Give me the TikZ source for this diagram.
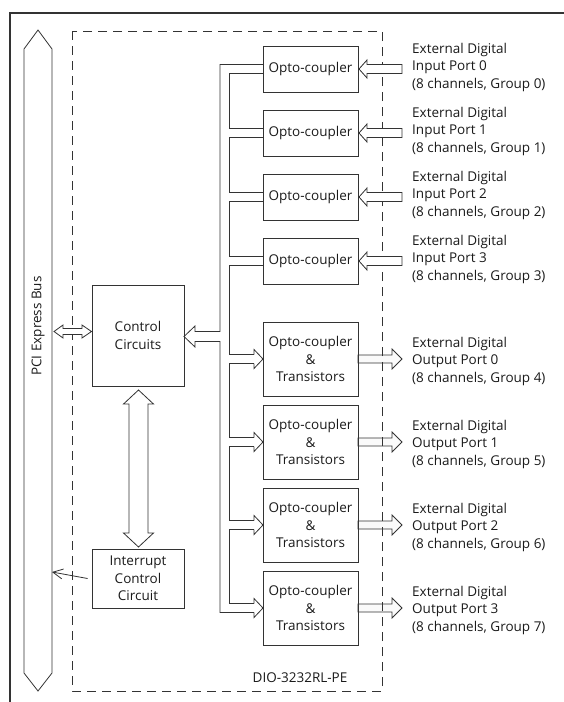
\documentclass[tikz,border=0pt]{standalone}
\usepackage{fontspec}
\setmainfont{Open Sans}
\usetikzlibrary{arrows.meta}
\definecolor{ln}{HTML}{333333}
\definecolor{tx}{HTML}{1A1A1A}
\tikzset{
  lbl/.style={font=\fontsize{13.5}{17.5}\selectfont, text=tx, align=center, inner sep=0pt},
  rlbl/.style={font=\fontsize{13.5}{17.5}\selectfont, text=tx, align=left, anchor=west, inner sep=0pt},
  box/.style={draw=ln, line width=0.8pt, inner sep=0pt, font=\fontsize{13.5}{17.5}\selectfont, text=tx, align=center},
  optobox/.style={box, minimum width=95pt, minimum height=46pt},
  outbox/.style={box, minimum width=95pt, minimum height=74pt},
  wire/.style={draw=ln, line width=0.8pt},
  hollow/.style={draw=ln, line width=0.8pt, fill=white, line join=miter},
}
\begin{document}
\begin{tikzpicture}[x=1pt,y=-1pt]
\useasboundingbox (0,0) rectangle (564,702);
% outer frame
\draw[ln, line width=1.4pt] (10,702) -- (10,13) -- (564,13);
% PCI bus
\draw[wire] (24,49) -- (38,30) -- (52,49) -- (52,673) -- (38,691) -- (24,673) -- cycle;
\node[lbl, rotate=90] (bus) at (38,326) {PCI Express Bus};
\coordinate (busR) at (52,572);
% output arrows (under dashed box)
\foreach \c in {359,442,525,608}{
  \draw[hollow, fill=gray!4] (358,\c-4) -- (392,\c-4) -- (392,\c-10) -- (402,\c) -- (392,\c+10) -- (392,\c+4) -- (358,\c+4) -- cycle;
}
% dashed board
\draw[ln, line width=0.8pt, dash pattern=on 9pt off 6pt] (72,31) rectangle (382,691);
\node[lbl] (board) at (300,678) {DIO-3232RL-PE};
% control
\node[box, minimum width=92pt, minimum height=101pt] (ctrl) at (138,335.5) {Control\\Circuits};
\node[box, minimum width=92pt, minimum height=59pt] (intr) at (138,578.5) {Interrupt\\Control\\Circuit};
% opto-couplers
\node[optobox] (in1) at (310.5,69) {Opto-coupler};
\node[optobox] (in2) at (310.5,133) {Opto-coupler};
\node[optobox] (in3) at (310.5,197) {Opto-coupler};
\node[optobox] (in4) at (310.5,261) {Opto-coupler};
\node[outbox] (out1) at (310.5,359) {Opto-coupler\\\&\\Transistors};
\node[outbox] (out2) at (310.5,442) {Opto-coupler\\\&\\Transistors};
\node[outbox] (out3) at (310.5,525) {Opto-coupler\\\&\\Transistors};
\node[outbox] (out4) at (310.5,608) {Opto-coupler\\\&\\Transistors};
% input arrows
\foreach \c in {69,133,197,261}{
  \draw[hollow] (402,\c-4.5) -- (367,\c-4.5) -- (367,\c-9) -- (359,\c) -- (367,\c+9) -- (367,\c+4.5) -- (402,\c+4.5) -- cycle;
}
% labels
\node[rlbl] (l1) at (412,67) {External Digital\\Input Port 0\\(8 channels, Group 0)};
\node[rlbl] (l2) at (412,131) {External Digital\\Input Port 1\\(8 channels, Group 1)};
\node[rlbl] (l3) at (412,195) {External Digital\\Input Port 2\\(8 channels, Group 2)};
\node[rlbl] (l4) at (412,259) {External Digital\\Input Port 3\\(8 channels, Group 3)};
\node[rlbl] (l5) at (412,361) {External Digital\\Output Port 0\\(8 channels, Group 4)};
\node[rlbl] (l6) at (412,444) {External Digital\\Output Port 1\\(8 channels, Group 5)};
\node[rlbl] (l7) at (412,527) {External Digital\\Output Port 2\\(8 channels, Group 6)};
\node[rlbl] (l8) at (412,610) {External Digital\\Output Port 3\\(8 channels, Group 7)};
% internal channel: outer wall
\draw[wire, line join=miter] (263,64.5) -- (220,64.5) -- (220,331.5) -- (195,331.5) -- (195,326) -- (184,336.5) -- (195,347) -- (195,341.5) -- (220,341.5) -- (220,612.5) -- (254,612.5);
% inner wall (inputs)
\draw[wire] (263,73.5) -- (229,73.5) -- (229,128.5) -- (263,128.5);
\draw[wire] (263,137.5) -- (229,137.5) -- (229,192.5) -- (263,192.5);
\draw[wire] (263,201.5) -- (229,201.5) -- (229,256.5) -- (263,256.5);
\draw[wire] (263,265.5) -- (229,265.5) -- (229,354.5) -- (254,354.5);
% inner wall (outputs)
\draw[wire] (254,363.5) -- (229,363.5) -- (229,437.5) -- (254,437.5);
\draw[wire] (254,446.5) -- (229,446.5) -- (229,520.5) -- (254,520.5);
\draw[wire] (254,529.5) -- (229,529.5) -- (229,603.5) -- (254,603.5);
% heads into output boxes
\foreach \o in {359,442,525,608}{
  \draw[wire, line join=miter] (254,\o-4.5) -- (254,\o-9.5) -- (263,\o) -- (254,\o+9.5) -- (254,\o+4.5);
}
% bus <-> control
\draw[hollow] (54,331.5) -- (63,325) -- (63,328.5) -- (82,328.5) -- (82,325) -- (91.5,331.5) -- (82,338) -- (82,334.5) -- (63,334.5) -- (63,338) -- cycle;
% control <-> interrupt
\draw[hollow] (138.5,390) -- (153.5,404) -- (148,404) -- (148,533) -- (153.5,533) -- (138.5,547) -- (123.5,533) -- (129,533) -- (129,404) -- (123.5,404) -- cycle;
% interrupt -> bus
\draw[wire, -{Straight Barb[length=10pt,width=10pt,line width=0.8pt]}] (intr.west) ++(-4,0) -- (busR);
\end{tikzpicture}
\end{document}
